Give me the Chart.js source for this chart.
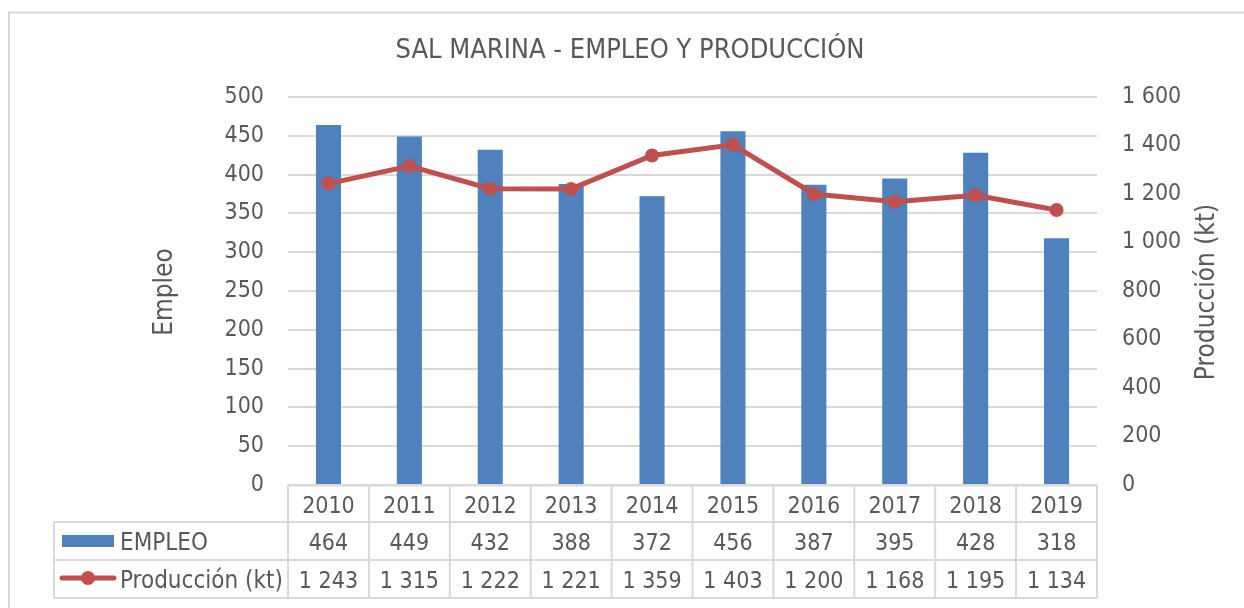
<!DOCTYPE html>
<html>
<head>
<meta charset="utf-8">
<script src="https://cdn.jsdelivr.net/npm/chart.js@4/dist/chart.umd.min.js"></script>
<style>
html,body{margin:0;padding:0;background:#fff;}
canvas{display:block;}
</style>
</head>
<body>
<canvas id="c" width="1244" height="608"></canvas>
<script>
const chartTitle = 'SAL MARINA - EMPLEO Y PRODUCCIÓN';
const years = ['2010','2011','2012','2013','2014','2015','2016','2017','2018','2019'];
const empleo = [464,449,432,388,372,456,387,395,428,318];
const produccion = [1243,1315,1222,1221,1359,1403,1200,1168,1195,1134];
const seriesNames = ['EMPLEO','Producción (kt)'];
const leftTitle = 'Empleo';
const rightTitle = 'Producción (kt)';

const FONT = '"DejaVu Sans Condensed", "DejaVu Sans", sans-serif';
const TXT = '#595959';
const GRID = '#d9d9d9';
const BAR = '#4f81bd';
const LINE = '#c0504d';

function fmt(n){ return String(n).replace(/\B(?=(\d{3})+(?!\d))/g,' '); }

const deco = {
  id:'deco',
  beforeDraw(chart){
    const ctx = chart.ctx;
    ctx.save();
    ctx.fillStyle='#fff'; ctx.fillRect(0,0,chart.width,chart.height);
    ctx.strokeStyle=GRID; ctx.lineWidth=2;
    ctx.strokeRect(9,12.5,1400,800);
    ctx.restore();
  },
  afterDraw(chart){
    const ctx = chart.ctx;
    const x = chart.scales.x;
    const area = chart.chartArea;
    ctx.save();
    // title
    ctx.fillStyle=TXT;
    ctx.font='27px '+FONT;
    ctx.textAlign='center'; ctx.textBaseline='alphabetic';
    ctx.fillText(chartTitle,630,58);
    // axis titles
    ctx.font='26px '+FONT;
    ctx.save(); ctx.translate(172,(area.top+area.bottom)/2+1); ctx.rotate(-Math.PI/2);
    ctx.fillText(leftTitle,0,0); ctx.restore();
    ctx.save(); ctx.translate(1214,(area.top+area.bottom)/2+1); ctx.rotate(-Math.PI/2);
    ctx.fillText(rightTitle,0,0); ctx.restore();

    // table
    const n = years.length;
    const w = (area.right-area.left)/n;
    const y0 = area.bottom+0.5, y1 = 522, y2 = 560, y3 = 598;
    const lx = 54;
    ctx.strokeStyle=GRID; ctx.lineWidth=2;
    ctx.beginPath();
    ctx.moveTo(area.left,y0); ctx.lineTo(area.right,y0);
    [y1,y2,y3].forEach(y=>{ctx.moveTo(lx,y); ctx.lineTo(area.right,y);});
    for(let k=0;k<=n;k++){
      const xx = area.left + k*w;
      ctx.moveTo(xx,y0); ctx.lineTo(xx,y3);
    }
    ctx.moveTo(lx,y1); ctx.lineTo(lx,y3);
    ctx.stroke();

    ctx.fillStyle=TXT;
    ctx.font='23px '+FONT;
    ctx.textAlign='center';
    for(let i=0;i<n;i++){
      const cx = x.getPixelForValue(i);
      ctx.fillText(years[i],cx,513);
      ctx.fillText(fmt(empleo[i]),cx,550);
      ctx.fillText(fmt(produccion[i]),cx,588);
    }
    // legend keys
    ctx.fillStyle=BAR; ctx.fillRect(62,535,52,12);
    ctx.strokeStyle=LINE; ctx.lineWidth=5; ctx.lineCap='round';
    ctx.beginPath(); ctx.moveTo(62,578); ctx.lineTo(114,578); ctx.stroke();
    ctx.fillStyle=LINE; ctx.beginPath(); ctx.arc(88,578,7,0,Math.PI*2); ctx.fill();
    ctx.fillStyle=TXT; ctx.textAlign='left';
    ctx.font='24px '+FONT;
    ctx.fillText(seriesNames[0],120,550);
    ctx.fillText(seriesNames[1],120,588);
    ctx.restore();
  }
};

new Chart(document.getElementById('c'),{
  type:'bar',
  data:{
    labels:years,
    datasets:[
      {type:'line',label:seriesNames[1],data:produccion,yAxisID:'y1',order:0,
       borderColor:LINE,backgroundColor:LINE,borderWidth:5,pointRadius:7,pointHoverRadius:7,
       pointBackgroundColor:LINE,pointBorderWidth:0,tension:0},
      {type:'bar',label:seriesNames[0],data:empleo,yAxisID:'y',order:1,
       backgroundColor:BAR,barPercentage:0.31,categoryPercentage:1}
    ]
  },
  options:{
    responsive:false,animation:false,
    layout:{padding:{top:97,bottom:123,left:0,right:0}},
    plugins:{legend:{display:false},title:{display:false},tooltip:{enabled:false}},
    scales:{
      x:{display:false,offset:true},
      y:{position:'left',min:0,max:500,
         ticks:{stepSize:50,color:TXT,font:{family:FONT,size:23},padding:24},
         grid:{color:GRID,lineWidth:2,drawTicks:false},
         border:{display:false},
         afterFit(s){s.width=288;}},
      y1:{position:'right',min:0,max:1600,
         ticks:{stepSize:200,color:TXT,font:{family:FONT,size:23},padding:25,callback:v=>fmt(v)},
         grid:{display:false,drawTicks:false},
         border:{display:false},
         afterFit(s){s.width=147;}}
    }
  },
  plugins:[deco]
});
</script>
</body>
</html>
